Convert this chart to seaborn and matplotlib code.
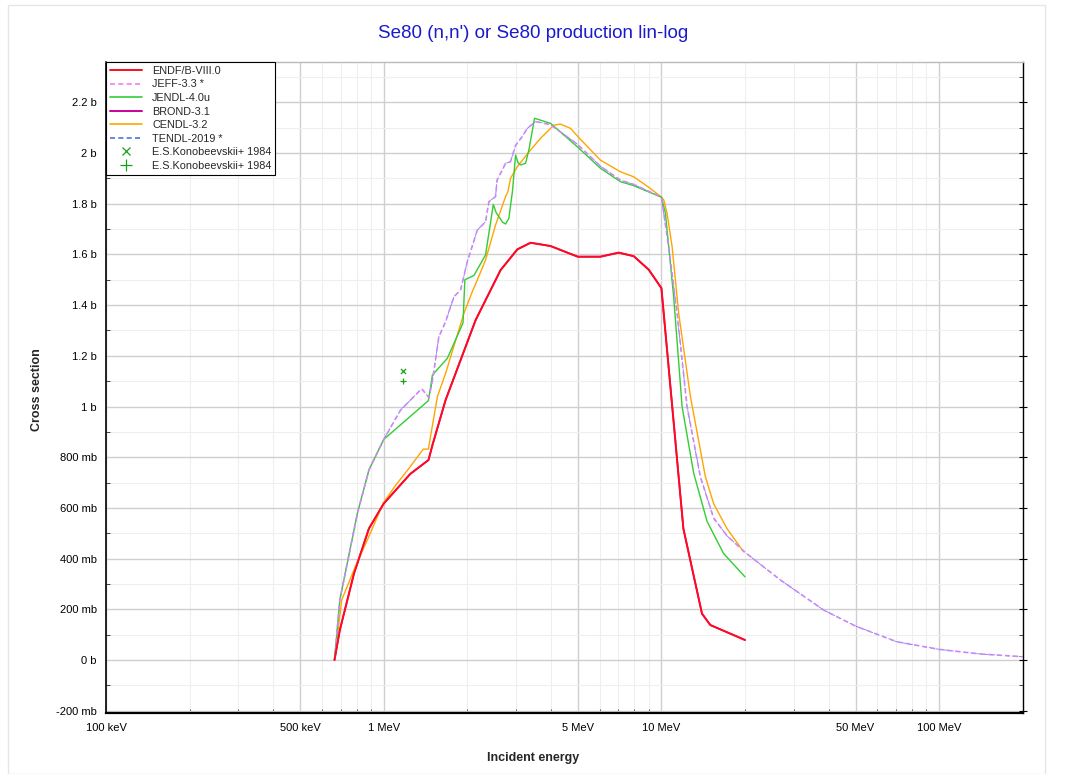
import numpy as np
import pandas as pd
import matplotlib
matplotlib.use("Agg")
import matplotlib.pyplot as plt
import matplotlib.ticker as mticker
from matplotlib.lines import Line2D
from matplotlib.patches import Rectangle
import seaborn as sns

# ---------------- data (energy in MeV, cross section in barns) ----------------
endf_e = [0.665, 0.695, 0.782, 0.885, 1.0, 1.246, 1.45, 1.5, 1.671, 2.143, 2.635, 3.03,
          3.38, 3.99, 4.71, 5.0, 6.03, 7.02, 7.95, 9.0, 10.0, 12.0, 14.0, 15.0, 20.0]
endf_s = [0.0, 0.118, 0.342, 0.519, 0.617, 0.734, 0.789, 0.85, 1.026, 1.341, 1.538, 1.62,
          1.646, 1.633, 1.602, 1.591, 1.591, 1.607, 1.593, 1.54, 1.467, 0.518, 0.183, 0.138, 0.079]

jeff_e = [0.665, 0.695, 0.804, 0.885, 1.0, 1.15, 1.37, 1.455, 1.50, 1.58, 1.671, 1.79,
          1.892, 2.0, 2.173, 2.327, 2.392, 2.528, 2.56, 2.747, 2.862, 2.985, 3.155, 3.287,
          3.522, 3.987, 4.975, 6.03, 7.12, 7.95, 10.0, 10.62, 11.39, 12.37, 13.81, 15.42,
          17.23, 20.0, 26.8, 38.4, 50.0, 70.4, 100.0, 140.0, 200.0]
jeff_s = [0.0, 0.237, 0.579, 0.75, 0.87, 0.986, 1.07, 1.035, 1.105, 1.275, 1.335, 1.433,
          1.46, 1.571, 1.696, 1.729, 1.808, 1.828, 1.893, 1.959, 1.966, 2.03, 2.065, 2.097,
          2.124, 2.112, 2.035, 1.948, 1.893, 1.876, 1.826, 1.63, 1.368, 1.0, 0.723, 0.56,
          0.49, 0.425, 0.316, 0.197, 0.134, 0.072, 0.042, 0.024, 0.013]

jendl_e = [0.665, 0.695, 0.804, 0.885, 1.0, 1.448, 1.476, 1.497, 1.695, 1.892, 1.93, 1.96,
           2.113, 2.327, 2.481, 2.54, 2.598, 2.68, 2.747, 2.823, 2.909, 2.985, 3.05, 3.111,
           3.243, 3.332, 3.493, 3.987, 4.975, 6.03, 7.12, 7.95, 10.0, 10.34, 11.07, 11.87,
           13.07, 14.6, 16.75, 20.0]
jendl_s = [0.0, 0.237, 0.579, 0.75, 0.87, 1.023, 1.078, 1.124, 1.19, 1.308, 1.33, 1.50,
           1.517, 1.598, 1.797, 1.765, 1.749, 1.727, 1.72, 1.742, 1.85, 1.992, 1.96, 1.953,
           1.959, 2.012, 2.137, 2.117, 2.025, 1.94, 1.887, 1.871, 1.826, 1.762, 1.433, 1.0,
           0.737, 0.547, 0.42, 0.328]

cendl_e = [0.665, 0.706, 0.79, 0.895, 0.995, 1.105, 1.233, 1.389, 1.448, 1.488, 1.561,
           1.671, 1.742, 1.945, 2.085, 2.173, 2.327, 2.528, 2.747, 2.80, 2.862, 3.027, 3.38,
           3.671, 4.10, 4.33, 4.71, 5.0, 6.03, 7.12, 7.95, 9.0, 10.0, 10.2, 10.48, 10.93,
           11.54, 12.72, 14.4, 15.42, 17.23, 19.77]
cendl_s = [0.0, 0.237, 0.368, 0.50, 0.618, 0.69, 0.756, 0.832, 0.832, 0.907, 1.039,
           1.131, 1.196, 1.368, 1.453, 1.499, 1.578, 1.716, 1.828, 1.847, 1.90, 1.946, 2.012,
           2.058, 2.11, 2.114, 2.097, 2.065, 1.972, 1.926, 1.906, 1.865, 1.826, 1.815, 1.762,
           1.63, 1.368, 1.039, 0.723, 0.617, 0.518, 0.427]

# BROND-3.1 and TENDL-2019 coincide with ENDF/B-VIII.0 and JEFF-3.3 respectively
brond_e, brond_s = endf_e, endf_s
tendl_e, tendl_s = jeff_e, jeff_s

exp_x_e, exp_x_s = [1.177], [1.141]
exp_p_e, exp_p_s = [1.177], [1.10]

labels = ["ENDF/B-VIII.0", "JEFF-3.3 *", "JENDL-4.0u", "BROND-3.1", "CENDL-3.2",
          "TENDL-2019 *", "E.S.Konobeevskii+ 1984", "E.S.Konobeevskii+ 1984"]

# ---------------- styling ----------------
sns.set_theme(style="white")
plt.rcParams["font.family"] = ["Liberation Sans", "DejaVu Sans"]

fig = plt.figure(figsize=(10.67, 7.74), dpi=100)
ax = fig.add_axes([106 / 1067, 1 - 713 / 774, (1022.7 - 106) / 1067, (713 - 62) / 774])
ax.set_xscale("log")
ax.set_xlim(0.1, 200)
ax.set_ylim(-0.209, 2.359)

# grid
ax.set_axisbelow(True)
ax.xaxis.set_major_locator(mticker.FixedLocator([0.1, 0.5, 1, 5, 10, 50, 100]))
minors = [m * 10.0 ** d for d in range(-1, 3) for m in (2, 3, 4, 6, 7, 8, 9)]
minors = [v for v in minors if v <= 200]
ax.xaxis.set_minor_locator(mticker.FixedLocator(minors))
ax.xaxis.set_major_formatter(mticker.FixedFormatter(
    ["100 keV", "500 keV", "1 MeV", "5 MeV", "10 MeV", "50 MeV", "100 MeV"]))
ax.xaxis.set_minor_formatter(mticker.NullFormatter())

ax.yaxis.set_major_locator(mticker.MultipleLocator(0.2))
ax.yaxis.set_minor_locator(mticker.MultipleLocator(0.1))


def yfmt(v, pos):
    if abs(v) < 1e-9:
        return "0 b"
    if abs(v) >= 0.999:
        return "%g b" % round(v, 3)
    return "%d mb" % round(v * 1000)


ax.yaxis.set_major_formatter(mticker.FuncFormatter(yfmt))
ax.grid(which="major", color="#cfcfcf", linewidth=1.0)
ax.grid(which="minor", color="#efefef", linewidth=0.8)

ax.tick_params(axis="both", which="major", direction="inout", length=6, width=0.8,
               labelsize=8, colors="black", right=True, top=False)
ax.tick_params(axis="both", which="minor", direction="in", length=3, width=0.6,
               right=True, top=False, bottom=True, left=True)
ax.tick_params(axis="x", which="major", pad=4)
for s in ax.spines.values():
    s.set_color("black")
    s.set_linewidth(1.0)
ax.spines["bottom"].set_linewidth(1.6)
ax.spines["left"].set_linewidth(1.2)
ax.spines["top"].set_color("#bbbbbb")

# ---------------- curves ----------------
c_endf, c_jeff, c_jendl, c_brond, c_cendl, c_tendl = (
    "#ff0a1e", "#f080f0", "#33cc33", "#cc0099", "#ffa500", "#4f6fe0")
c_jeff_curve = "#cf86fa"
c_exp = "#18a018"


def draw(e, s, color, lw, dashes=None, z=2):
    df = pd.DataFrame({"E": e, "sigma": s})
    sns.lineplot(data=df, x="E", y="sigma", ax=ax, color=color, linewidth=lw,
                 estimator=None, sort=False, zorder=z)
    line = ax.lines[-1]
    if dashes is not None:
        line.set_dashes(dashes)
    return line


draw(brond_e, brond_s, c_brond, 1.2, z=2)
draw(tendl_e, tendl_s, c_tendl, 0.5, dashes=(6, 4), z=2)
draw(cendl_e, cendl_s, c_cendl, 1.0, z=3)
draw(jendl_e, jendl_s, c_jendl, 1.0, z=3)
draw(jeff_e, jeff_s, c_jeff_curve, 1.2, dashes=(3, 2), z=4)
draw(endf_e, endf_s, c_endf, 1.4, z=5)

sns.scatterplot(x=exp_x_e, y=exp_x_s, ax=ax, marker="x", color=c_exp, s=14,
                linewidth=0.9, zorder=6)
sns.scatterplot(x=exp_p_e, y=exp_p_s, ax=ax, marker="+", color=c_exp, s=24,
                linewidth=0.9, zorder=6)

ax.set_xlabel("")
ax.set_ylabel("")

# ---------------- legend ----------------
handles = [
    Line2D([], [], color=c_endf, lw=1.4),
    Line2D([], [], color=c_jeff, lw=1.2, dashes=(3, 2)),
    Line2D([], [], color=c_jendl, lw=1.2),
    Line2D([], [], color=c_brond, lw=1.4),
    Line2D([], [], color=c_cendl, lw=1.2),
    Line2D([], [], color=c_tendl, lw=1.2, dashes=(3, 2)),
    Line2D([], [], color=c_exp, marker="x", lw=0, markersize=6, markeredgewidth=0.9),
    Line2D([], [], color=c_exp, marker="+", lw=0, markersize=8, markeredgewidth=0.9),
]
leg = ax.legend(handles, labels, loc="upper left", bbox_to_anchor=(0.0, 1.0),
                borderaxespad=0.0, fontsize=7.8, handlelength=3.0, labelspacing=0.33,
                handletextpad=0.9, borderpad=0.35, frameon=True, fancybox=False,
                framealpha=1.0)
leg.get_frame().set_edgecolor("black")
leg.get_frame().set_linewidth(0.8)
leg.set_zorder(10)

# ---------------- texts ----------------
fig.text(0.5, 1 - 34 / 774, "Se80 (n,n') or Se80 production lin-log", ha="center",
         va="center", fontsize=13.5, color="#1a1acc")
fig.text(0.5, 1 - 758 / 774, "Incident energy", ha="center", va="center",
         fontsize=9, fontweight="bold")
fig.text(37 / 1067, 1 - 390 / 774, "Cross section", ha="center", va="center",
         fontsize=9, fontweight="bold", rotation=90)

# faint outer frame
fig.patches.append(Rectangle((8 / 1067, 0.0), (1045 - 8) / 1067, 1 - 5 / 774,
                             transform=fig.transFigure, fill=False,
                             edgecolor="#e6e6e6", linewidth=1.0))

fig.savefig("out.png", dpi=100)
